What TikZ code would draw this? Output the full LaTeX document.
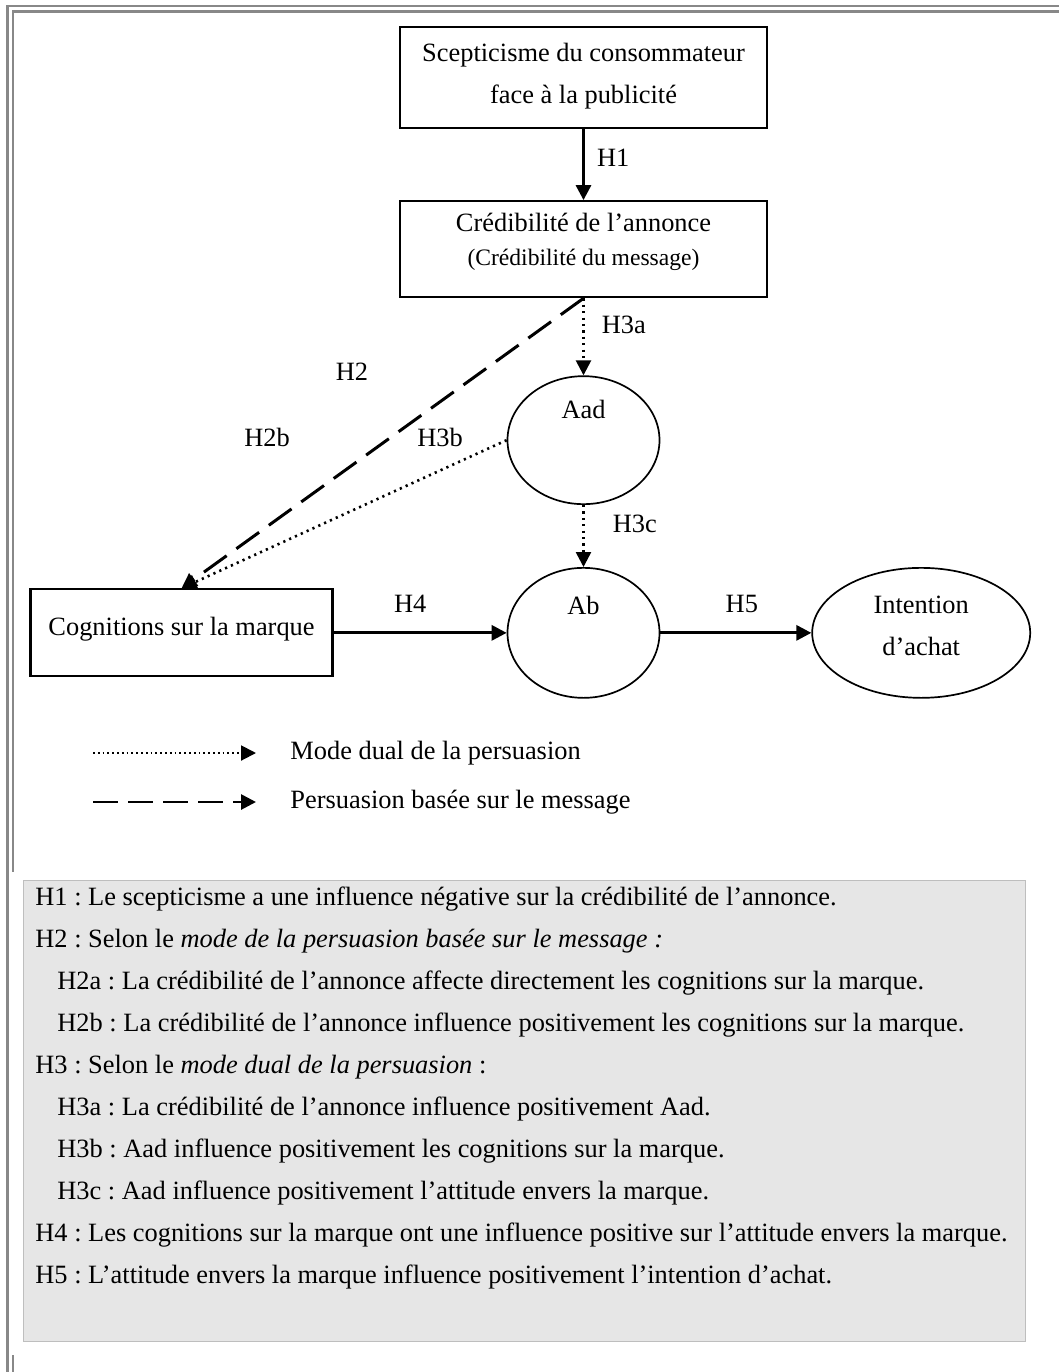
\documentclass[tikz,border=0pt]{standalone}
\usepackage{fontspec}
\setmainfont{Liberation Serif}
\usetikzlibrary{positioning}
\usetikzlibrary{arrows.meta, shapes.geometric}
\frenchspacing

\definecolor{framegray}{RGB}{136,136,136}
\definecolor{hypfill}{RGB}{230,230,230}
\definecolor{hypline}{RGB}{190,190,190}

\begin{document}
\begin{tikzpicture}[
            x = 0.5pt, y = -0.5pt, % one unit = one pixel of the page
            > = {Triangle[length=7.5pt,width=7.5pt]}, % arrow head style
            font = \fontsize{13.2}{16}\selectfont,
            every node/.style = {inner sep=0pt},
            concept/.style = {rectangle, draw, line width=1.1pt, align=center},
            latent/.style = {ellipse, draw, line width=0.85pt, align=center},
            direct/.style = {->, line width=1.5pt},
            dual/.style = {->, line width=1.3pt, dash pattern=on 1.1pt off 2.1pt},
            message/.style = {->, line width=1.5pt, dash pattern=on 14pt off 6pt},
            legdual/.style = {->, line width=1pt, dash pattern=on 0.9pt off 1.5pt},
            legmessage/.style = {->, line width=1.4pt, dash pattern=on 12.5pt off 5pt}
        ]

        \useasboundingbox (0,0) rectangle (1059,1372);

        % page frame
        \draw[framegray, line width=1.2pt] (6,6) -- (1059,6);
        \draw[framegray, line width=1.2pt] (12,11.5) -- (1059,11.5);
        \draw[framegray, line width=1.2pt] (7.3,6) -- (7.3,1372);
        \draw[framegray, line width=1.2pt] (13,11.5) -- (13,872);
        \draw[framegray, line width=1.2pt] (13,1355) -- (13,1372);

        \node[concept, minimum width=183.5pt, minimum height=50.5pt, text depth=4pt, font=\fontsize{13.2}{21}\selectfont] (S) at (583.5,77.5) {Scepticisme du consommateur\\face à la publicité};
        \node[concept, minimum width=183.5pt, minimum height=48pt, text depth=10pt, font=\fontsize{13.2}{17}\selectfont] (CA) [below=35.5pt of S] {Crédibilité de l’annonce\\{\fontsize{11.8}{17}\selectfont (Crédibilité du message)}};

        \node[latent, minimum width=76pt, minimum height=64pt, label={[yshift=15.5pt]center:Aad}] (AAD) [below=38.5pt of CA] {};
        \node[latent, minimum width=76pt, minimum height=65pt, label={[yshift=13.5pt]center:Ab}] (AB) [below=31pt of AAD] {};

        \node[concept, minimum width=151pt, minimum height=43.5pt, text depth=7pt] (CM) [left=86.5pt of AB] {Cognitions sur la marque};
        \node[latent, minimum width=109pt, minimum height=65pt, text depth=7pt, font=\fontsize{13.2}{21}\selectfont] (IA) [right=75.5pt of AB] {Intention\\d’achat};

        \node (H2) at (352,372) {H2};
        \node (H2b) at (267,437) {H2b};
        \node (H3b) at (440,437) {H3b};

        \path
            (S)    edge[direct]  node[right=6pt, yshift=3.5pt] {H1}  (CA)
            (CA.south) edge[dual] node[right=8.5pt, yshift=6pt] {H3a} (AAD)
            (AAD)  edge[dual]  node[right=14pt, yshift=6pt] {H3c}  (AB)
            (CA.south) edge[message]  (CM.north)
            (AAD.west) edge[dual]  (CM.north)
            (CM)   edge[direct]  node[above=9.5pt, xshift=-5pt] {H4}  (AB)
            (AB)   edge[direct]  node[above=9.5pt, xshift=3pt] {H5}  (IA);

        % legend
        \coordinate (LD1) at (93,753);
        \coordinate (LD2) at (256,753);
        \coordinate (LM1) at (93,802);
        \coordinate (LM2) at (256,802);
        \draw[legdual] (LD1) -- (LD2);
        \draw[legmessage] (LM1) -- (LM2);
        \node[anchor=west] (LDT) at (290,753) {Mode dual de la persuasion};
        \node[anchor=west] (LMT) at (290,802) {Persuasion basée sur le message};

        % hypotheses
        \node[draw=hypline, fill=hypfill, line width=0.6pt, minimum width=501pt, minimum height=230.5pt, anchor=north west] (HYP) at (23,880) {};
        \node[anchor=north west, align=left, font=\fontsize{13.2}{21}\selectfont] (HYPT) at ([xshift=6pt, yshift=-3pt]HYP.north west) {%
H1 : Le scepticisme a une influence négative sur la crédibilité de l’annonce.\\
H2 : Selon le \textit{mode de la persuasion basée sur le message :}\\
\hspace*{11pt}H2a : La crédibilité de l’annonce affecte directement les cognitions sur la marque.\\
\hspace*{11pt}H2b : La crédibilité de l’annonce influence positivement les cognitions sur la marque.\\
H3 : Selon le \textit{mode dual de la persuasion} :\\
\hspace*{11pt}H3a : La crédibilité de l’annonce influence positivement Aad.\\
\hspace*{11pt}H3b : Aad influence positivement les cognitions sur la marque.\\
\hspace*{11pt}H3c : Aad influence positivement l’attitude envers la marque.\\
H4 : Les cognitions sur la marque ont une influence positive sur l’attitude envers la marque.\\
H5 : L’attitude envers la marque influence positivement l’intention d’achat.};

\end{tikzpicture}
\end{document}
